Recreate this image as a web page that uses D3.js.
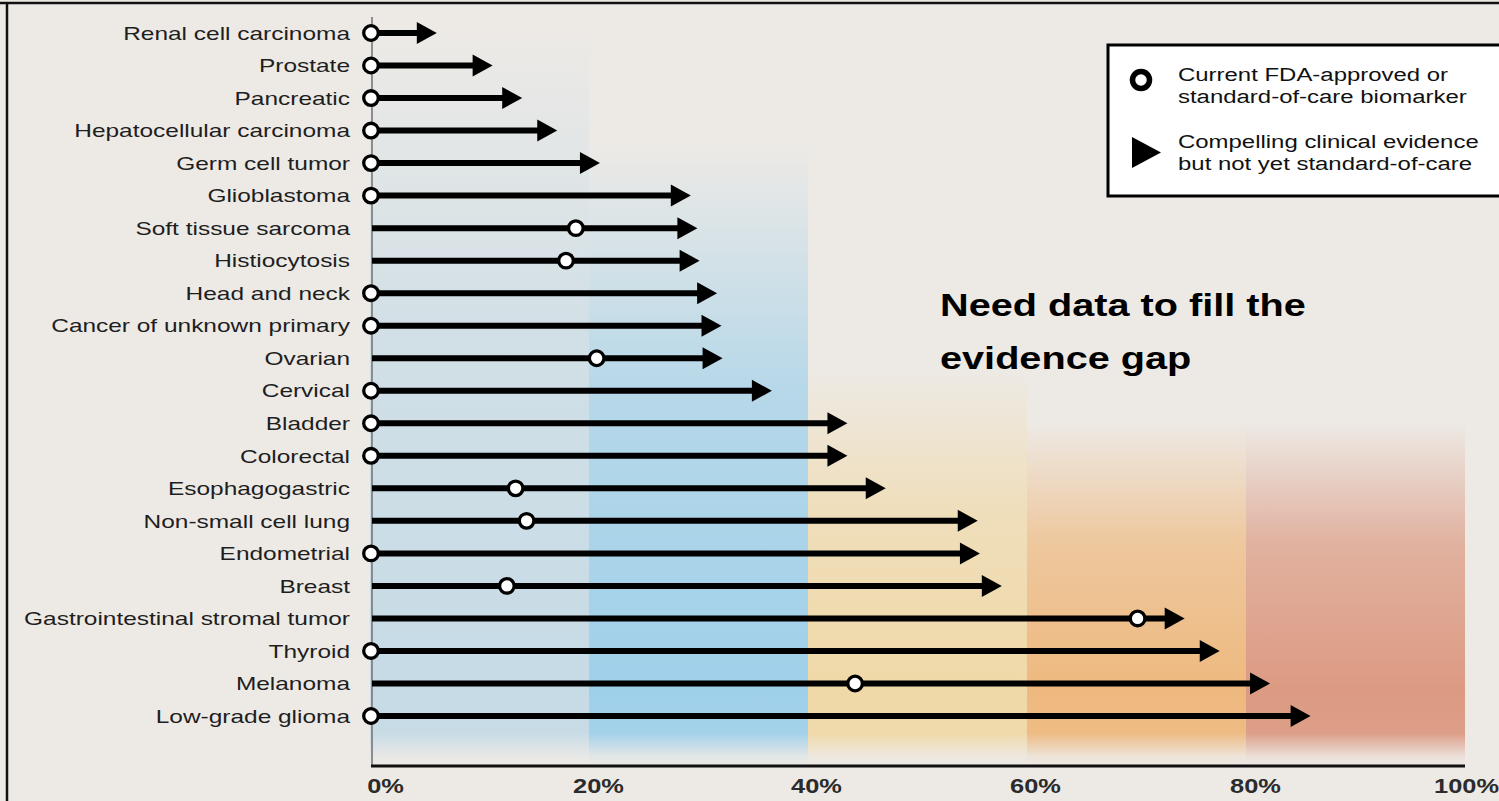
<!DOCTYPE html>
<html><head><meta charset="utf-8">
<script src="https://cdn.jsdelivr.net/npm/d3@7"></script>
<style>
html,body{margin:0;padding:0;background:#edeae6;}
svg{display:block;}
text{font-family:"Liberation Sans",Arial,Helvetica,sans-serif;}
</style></head>
<body>
<svg id="chart" width="1499" height="801"></svg>
<script>
const categories = ["Renal cell carcinoma","Prostate","Pancreatic","Hepatocellular carcinoma","Germ cell tumor","Glioblastoma","Soft tissue sarcoma","Histiocytosis","Head and neck","Cancer of unknown primary","Ovarian","Cervical","Bladder","Colorectal","Esophagogastric","Non-small cell lung","Endometrial","Breast","Gastrointestinal stromal tumor","Thyroid","Melanoma","Low-grade glioma"];
const approvedValues = [0,0,0,0,0,0,18.8,17.9,0,0,20.7,0,0,0,13.3,14.3,0,12.5,70.1,0,44.3,0];
const evidenceValues = [6.1,11.2,13.9,17.1,21.0,29.3,29.9,30.1,31.7,32.1,32.2,36.7,43.6,43.6,47.1,55.5,55.7,57.7,74.4,77.6,82.2,85.9];
const tickValues = [0,20,40,60,80,100];
const tickLabels = ["0%","20%","40%","60%","80%","100%"];
const bandStarts = [0,20,40,60,80];
const bandEnds = [20,40,60,80,100];
const bandColors = ["#c6dbe6","#9fd0ea","#f0d9a8","#eeb97f","#dc9a82"];
const bandTops = [30,143,365,420,420];
const legendLabels = [["Current FDA-approved or","standard-of-care biomarker"],["Compelling clinical evidence","but not yet standard-of-care"]];
const annotationLines = ["Need data to fill the","evidence gap"];

const svg = d3.select("#chart");
const W = 1499, H = 801;
const SX = 1.3;
const bg = "#edeae6";

const x = d3.scaleLinear().domain([0,100]).range([370,1465]);
const y = d3.scalePoint().domain(categories).range([33,716]);
const axisY = 766;

svg.append("rect").attr("width",W).attr("height",H).attr("fill",bg);

// gradients for bands
const defs = svg.append("defs");
bandStarts.forEach((s,i)=>{
  const top = bandTops[i];
  const g = defs.append("linearGradient").attr("id","band"+i)
    .attr("gradientUnits","userSpaceOnUse").attr("x1",0).attr("x2",0).attr("y1",top).attr("y2",axisY);
  const span = axisY - top;
  const stops = [[top,0],[top+(690-top)*0.45,0.7],[690,1],[733,0.95],[756,0.15],[axisY,0]];
  stops.forEach(([yy,o])=>{
    g.append("stop").attr("offset",((yy-top)/span)).attr("stop-color",bandColors[i]).attr("stop-opacity",o);
  });
});
svg.append("g").selectAll("rect").data(bandStarts).join("rect")
  .attr("x",d=>x(d)).attr("width",(d,i)=>x(bandEnds[i])-x(d))
  .attr("y",(d,i)=>bandTops[i]).attr("height",(d,i)=>axisY-bandTops[i])
  .attr("fill",(d,i)=>`url(#band${i})`);

// frame (top & left)
svg.append("line").attr("x1",0).attr("x2",W).attr("y1",3).attr("y2",3).attr("stroke","#111").attr("stroke-width",2.5);
svg.append("line").attr("x1",7).attr("x2",7).attr("y1",2).attr("y2",H).attr("stroke","#111").attr("stroke-width",2.5);

// vertical axis line
svg.append("line").attr("x1",x(0)+2).attr("x2",x(0)+2).attr("y1",17).attr("y2",axisY)
  .attr("stroke","#777").attr("stroke-width",1.6);
// bottom axis
const xAxis = d3.axisBottom(x).tickValues(tickValues).tickFormat((d,i)=>tickLabels[i]).tickSize(0).tickPadding(0);
const ax = svg.append("g").attr("transform",`translate(0,${axisY})`).call(xAxis);
ax.select(".domain").attr("d",`M${x(0)+1},0H${x(100)}`).attr("stroke","#111").attr("stroke-width",3);
const tickDx = [15,9,8,8,9,1];
ax.selectAll(".tick text").each(function(d,i){
  const t = d3.select(this);
  t.attr("y",0).attr("dy",0)
   .attr("transform",`translate(${tickDx[i]},27) scale(1.27,1)`)
   .attr("font-size",20).attr("font-weight","bold").attr("fill","#2b2b2b")
   .attr("font-family",'"Liberation Sans",Arial,sans-serif').attr("text-anchor","middle");
});

// category labels
svg.append("g").selectAll("text").data(categories).join("text")
  .attr("transform",d=>`translate(350,${y(d)+6.7}) scale(${SX},1)`)
  .attr("text-anchor","end").attr("font-size",18.8).attr("fill","#1e1e1e").text(d=>d);

// arrows
const rows = svg.append("g").selectAll("g").data(categories).join("g");
rows.append("line")
  .attr("x1",x(0)+2).attr("x2",(d,i)=>x(evidenceValues[i])-16)
  .attr("y1",d=>y(d)).attr("y2",d=>y(d))
  .attr("stroke","#000").attr("stroke-width",6);
rows.append("path")
  .attr("d",(d,i)=>{const tx=x(evidenceValues[i]), ty=y(d); return `M${tx},${ty}L${tx-20},${ty-11}L${tx-20},${ty+11}Z`;})
  .attr("fill","#000");
rows.append("circle")
  .attr("cx",(d,i)=>x(approvedValues[i])+(approvedValues[i]===0?1:0)).attr("cy",d=>y(d)).attr("r",7.3)
  .attr("fill","#fff").attr("stroke","#000").attr("stroke-width",3.3);

// annotation
svg.append("g").selectAll("text").data(annotationLines).join("text")
  .attr("transform",(d,i)=>`translate(940,${316+i*53}) scale(1.28,1)`)
  .attr("font-size",31).attr("font-weight","bold").attr("fill","#000").text(d=>d);

// legend
const lg = svg.append("g");
lg.append("rect").attr("x",1108).attr("y",45).attr("width",395).attr("height",151)
  .attr("fill","#fff").attr("stroke","#000").attr("stroke-width",3);
lg.append("circle").attr("cx",1141).attr("cy",80).attr("r",8.5).attr("fill","#fff").attr("stroke","#000").attr("stroke-width",5.5);
lg.append("path").attr("d","M1132,137L1161,152.5L1132,168Z").attr("fill","#000");
legendLabels.forEach((lines,k)=>{
  lines.forEach((t,j)=>{
    lg.append("text").attr("transform",`translate(1178,${81+k*67+j*22}) scale(1.26,1)`)
      .attr("font-size",19).attr("fill","#111").text(t);
  });
});
</script>
</body></html>
